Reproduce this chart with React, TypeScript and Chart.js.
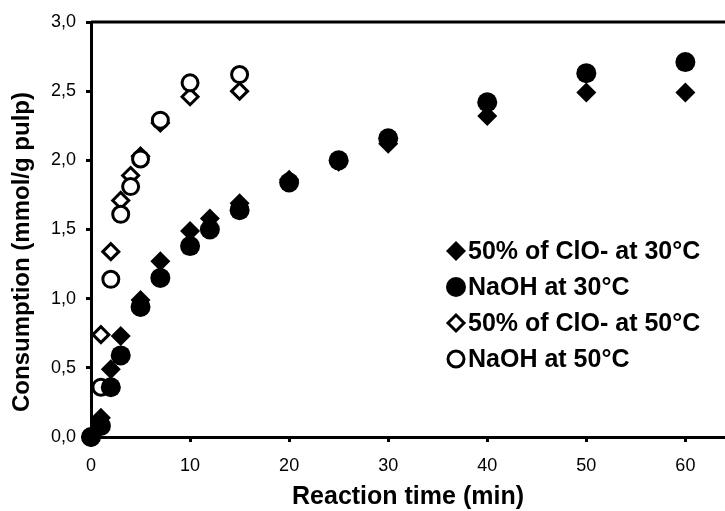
import React, { useEffect, useRef } from 'react';
import { Chart, registerables } from 'chart.js';

Chart.register(...registerables);

const FONT = "'Liberation Sans', Arial, Helvetica, sans-serif";

// Reaction times (min)
const time30 = [0, 1, 2, 3, 5, 7, 10, 12, 15, 20, 25, 30, 40, 50, 60];
const time50 = [0, 1, 2, 3, 4, 5, 7, 10, 15];

// Consumption (mmol/g pulp)
const clo30 = [0, 0.14, 0.49, 0.73, 0.99, 1.27, 1.49, 1.58, 1.69, 1.86, 1.99, 2.12, 2.32, 2.49, 2.49];
const naoh30 = [0, 0.08, 0.36, 0.59, 0.94, 1.15, 1.38, 1.5, 1.64, 1.84, 2.0, 2.16, 2.42, 2.63, 2.71];
const clo50 = [0, 0.74, 1.34, 1.71, 1.89, 2.03, 2.27, 2.46, 2.5];
const naoh50 = [0, 0.36, 1.14, 1.61, 1.81, 2.01, 2.29, 2.56, 2.62];

const seriesLabels = ['50% of ClO- at 30°C', 'NaOH at 30°C', '50% of ClO- at 50°C', 'NaOH at 50°C'];
const xTickValues = [0, 10, 20, 30, 40, 50, 60];
const yTickValues = [0, 0.5, 1.0, 1.5, 2.0, 2.5, 3.0];
const xTitle = 'Reaction time (min)';
const yTitle = 'Consumption (mmol/g pulp)';

type MarkerStyle = { shape: 'rectRot' | 'circle'; radius: number; fill: string; borderWidth: number; order: number };
const markers: MarkerStyle[] = [
  { shape: 'rectRot', radius: 10, fill: '#000000', borderWidth: 0, order: 1 },
  { shape: 'circle', radius: 10, fill: '#000000', borderWidth: 0, order: 0 },
  { shape: 'rectRot', radius: 8, fill: '#ffffff', borderWidth: 3, order: 3 },
  { shape: 'circle', radius: 8, fill: '#ffffff', borderWidth: 3, order: 2 },
];

function drawMarker(ctx: CanvasRenderingContext2D, m: MarkerStyle, x: number, y: number) {
  ctx.beginPath();
  if (m.shape === 'circle') {
    ctx.arc(x, y, m.radius, 0, Math.PI * 2);
  } else {
    ctx.moveTo(x - m.radius, y);
    ctx.lineTo(x, y - m.radius);
    ctx.lineTo(x + m.radius, y);
    ctx.lineTo(x, y + m.radius);
    ctx.closePath();
  }
  ctx.fillStyle = m.fill;
  ctx.fill();
  if (m.borderWidth > 0) {
    ctx.lineWidth = m.borderWidth;
    ctx.strokeStyle = '#000000';
    ctx.stroke();
  }
}

export default function App() {
  const canvasRef = useRef<HTMLCanvasElement>(null);

  useEffect(() => {
    const canvas = canvasRef.current;
    if (!canvas) return;

    const toPoints = (xs: number[], ys: number[]) => xs.map((x, i) => ({ x, y: ys[i] }));
    const seriesData = [toPoints(time30, clo30), toPoints(time30, naoh30), toPoints(time50, clo50), toPoints(time50, naoh50)];

    const decor = {
      id: 'decor',
      afterDraw(chart: any) {
        const { ctx, chartArea } = chart;
        ctx.save();
        // top frame line
        ctx.strokeStyle = '#000000';
        ctx.lineWidth = 3;
        ctx.beginPath();
        ctx.moveTo(chartArea.left, chartArea.top);
        ctx.lineTo(chart.width, chartArea.top);
        ctx.stroke();

        // axis titles
        ctx.fillStyle = '#000000';
        ctx.textAlign = 'center';
        ctx.textBaseline = 'middle';
        ctx.font = `bold 25px ${FONT}`;
        ctx.fillText(xTitle, (chartArea.left + chartArea.right) / 2, 497);
        ctx.font = `bold 24px ${FONT}`;
        ctx.save();
        ctx.translate(22, 252);
        ctx.rotate(-Math.PI / 2);
        ctx.fillText(yTitle, 0, 0);
        ctx.restore();

        // legend
        const rowsY = [251, 287, 323, 359];
        ctx.font = `bold 25px ${FONT}`;
        ctx.textAlign = 'left';
        seriesLabels.forEach((label, i) => {
          drawMarker(ctx, markers[i], 456, rowsY[i]);
          ctx.fillStyle = '#000000';
          ctx.fillText(label, 468, rowsY[i] + 1);
        });
        ctx.restore();
      },
    };

    const chart = new Chart(canvas, {
      type: 'scatter',
      data: {
        datasets: seriesData.map((d, i) => ({
          label: seriesLabels[i],
          data: d,
          pointStyle: markers[i].shape,
          pointRadius: markers[i].radius,
          pointHoverRadius: markers[i].radius,
          pointBackgroundColor: markers[i].fill,
          pointBorderColor: '#000000',
          pointBorderWidth: markers[i].borderWidth,
          showLine: false,
          clip: false,
          order: markers[i].order,
        })),
      },
      options: {
        responsive: false,
        animation: false,
        layout: { autoPadding: false, padding: { top: 22, left: 0, right: 0, bottom: 0 } },
        plugins: {
          legend: { display: false },
          tooltip: { enabled: false },
          title: { display: false },
        },
        scales: {
          x: {
            type: 'linear',
            min: 0,
            max: 64,
            afterBuildTicks: (scale: any) => {
              scale.ticks = xTickValues.map((v) => ({ value: v }));
            },
            afterFit: (scale: any) => {
              scale.height = 74;
              scale.paddingLeft = 0;
              scale.paddingRight = 0;
            },
            border: { display: true, color: '#000000', width: 3 },
            grid: { display: true, drawOnChartArea: false, drawTicks: true, tickLength: 5, tickWidth: 3, tickColor: '#000000', color: '#000000' },
            ticks: {
              color: '#000000',
              font: { family: FONT, size: 18 },
              padding: 13,
              maxRotation: 0,
              callback: (v: any) => String(v),
            },
          },
          y: {
            type: 'linear',
            min: 0,
            max: 3,
            afterBuildTicks: (scale: any) => {
              scale.ticks = yTickValues.map((v) => ({ value: v }));
            },
            afterFit: (scale: any) => {
              scale.width = 91;
            },
            border: { display: true, color: '#000000', width: 3 },
            grid: { display: true, drawOnChartArea: false, drawTicks: true, tickLength: 5, tickWidth: 3, tickColor: '#000000', color: '#000000' },
            ticks: {
              color: '#000000',
              font: { family: FONT, size: 18 },
              padding: 10,
              callback: (v: any) => Number(v).toFixed(1).replace('.', ','),
            },
          },
        },
      },
      plugins: [decor],
    });

    return () => chart.destroy();
  }, []);

  return (
    <div style={{ position: 'absolute', left: 0, top: 0, width: 725, height: 511, background: '#ffffff' }}>
      <canvas ref={canvasRef} width={725} height={511} style={{ width: 725, height: 511, display: 'block' }} />
    </div>
  );
}
